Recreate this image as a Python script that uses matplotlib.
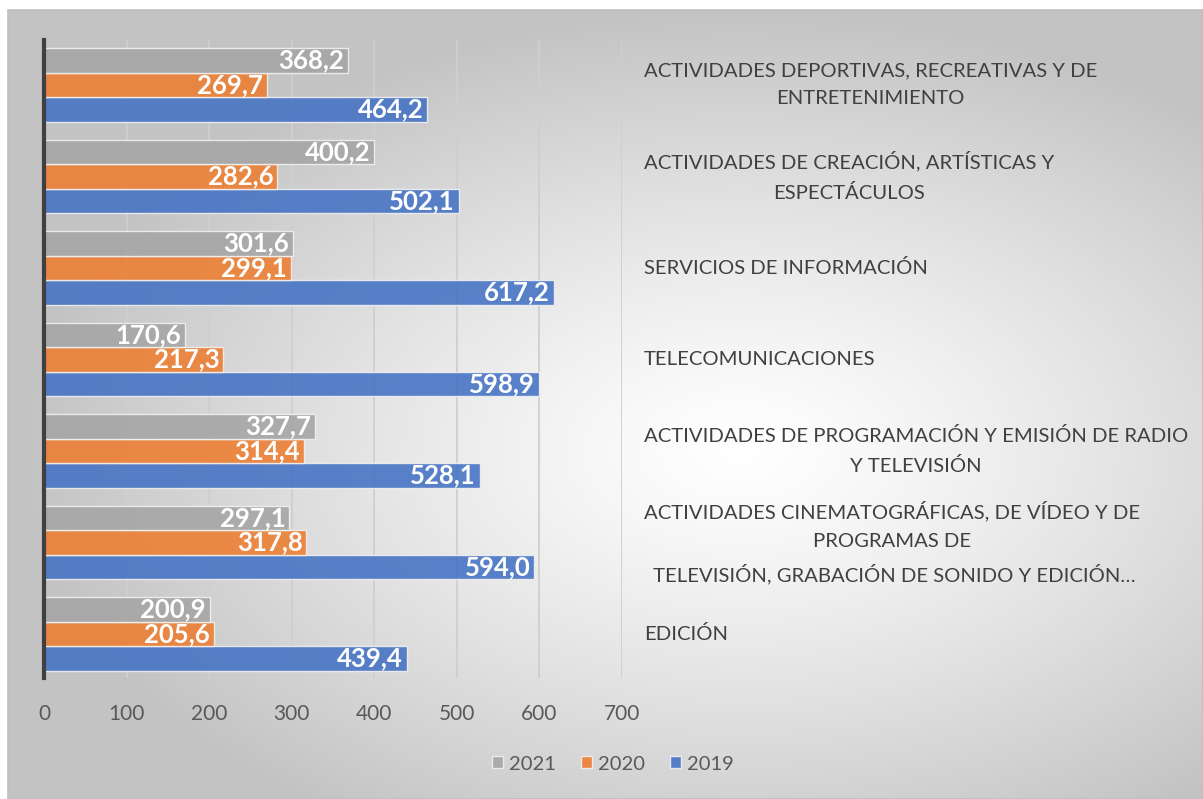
import numpy as np
import matplotlib
matplotlib.use("Agg")
import matplotlib.pyplot as plt
from matplotlib.patches import Patch, Rectangle
import matplotlib.transforms as mtransforms

# ---------------- data ----------------
categories = [
    "EDICIÓN",
    "ACTIVIDADES CINEMATOGRÁFICAS, DE VÍDEO Y DE\nPROGRAMAS DE\n TELEVISIÓN, GRABACIÓN DE SONIDO Y EDICIÓN…",
    "ACTIVIDADES DE PROGRAMACIÓN Y EMISIÓN DE RADIO\nY TELEVISIÓN",
    "TELECOMUNICACIONES",
    "SERVICIOS DE INFORMACIÓN",
    "ACTIVIDADES DE CREACIÓN, ARTÍSTICAS Y\nESPECTÁCULOS",
    "ACTIVIDADES DEPORTIVAS, RECREATIVAS Y DE\nENTRETENIMIENTO",
]
v2019 = [439.4, 594.0, 528.1, 598.9, 617.2, 502.1, 464.2]
v2020 = [205.6, 317.8, 314.4, 217.3, 299.1, 282.6, 269.7]
v2021 = [200.9, 297.1, 327.7, 170.6, 301.6, 400.2, 368.2]
series_names = ["2021", "2020", "2019"]
xticks = [0, 100, 200, 300, 400, 500, 600, 700]

colors = {"2019": "#4472C4", "2020": "#ED7D31", "2021": "#A5A5A5"}

W, H = 1203, 799
fig = plt.figure(figsize=(W / 100, H / 100), dpi=100)
fig.patch.set_facecolor("white")

FONT = "Lato"

def fx(px):
    return px / W

def fy(py):
    return 1 - py / H

# ---------------- background gradient ----------------
bx0, by0, bx1, by1 = 8, 10, 1203, 799
bg = fig.add_axes([fx(bx0), fy(by1), fx(bx1 - bx0), (by1 - by0) / H], zorder=-5)
xx, yy = np.meshgrid(np.arange(bx0, bx1), np.arange(by0, by1))
cx, cy = 740, 450
d = np.sqrt(((xx - cx) / 720) ** 2 + ((yy - cy) / 440) ** 2)
val = 255 - 60 * np.clip(d, 0, 1) ** 1.25
img = np.dstack([val, val, val]) / 255.0
bg.imshow(img, aspect="auto", extent=[0, 1, 0, 1], origin="upper")
bg.set_xlim(0, 1)
bg.set_ylim(0, 1)
bg.axis("off")
fig.patches.append(Rectangle((fx(bx0), fy(by1)), fx(bx1 - bx0), (by1 - by0) / H,
                             transform=fig.transFigure, fill=False,
                             edgecolor="#bfbfbf", linewidth=1.2, zorder=-4))

# ---------------- main axes ----------------
top_px, bot_px = 40, 678
ax = fig.add_axes([fx(44), fy(bot_px), fx(622 - 44), (bot_px - top_px) / H])
ax.patch.set_alpha(0)

y = np.arange(len(categories))
h = 0.268
data = {"2019": v2019, "2020": v2020, "2021": v2021}
offsets = {"2019": -h, "2020": 0.0, "2021": h}

for xt in xticks[1:]:
    ax.axvline(xt, color="#cfcfcf", linewidth=1.3, zorder=1)

for name in ["2019", "2020", "2021"]:
    vals = data[name]
    ax.barh(y + offsets[name], vals, height=h, color=colors[name],
            alpha=0.88, edgecolor="#f2f2f2", linewidth=1.0, zorder=2)
    for yi, v in zip(y + offsets[name], vals):
        ax.annotate(f"{v:.1f}".replace(".", ","), xy=(v, yi), xytext=(-4, 0),
                    textcoords="offset pixels", ha="right", va="center",
                    color="white", fontweight="bold", fontsize=18.5,
                    fontfamily=FONT, zorder=3)

ax.set_xlim(0, 700)
ax.set_ylim(-0.48, 6.49)
ax.set_xticks(xticks)
ax.set_xticklabels([str(t) for t in xticks], fontfamily=FONT, fontsize=15,
                   color="#595959")
ax.tick_params(axis="x", length=0, pad=19)
ax.set_yticks([])
for s in ["top", "right", "bottom"]:
    ax.spines[s].set_visible(False)
ax.spines["left"].set_color("#404040")
ax.spines["left"].set_linewidth(3)
ax.spines["left"].set_zorder(4)

# ---------------- category labels ----------------
trans = mtransforms.blended_transform_factory(fig.transFigure, ax.transData)
for yi, lab in zip(y, categories):
    ax.text(fx(644), yi, lab, transform=trans, ha="left", va="center",
            multialignment="center", fontfamily=FONT, fontsize=14.6,
            color="#404040", linespacing=1.8)

# ---------------- legend ----------------
handles = [Patch(facecolor=colors[n], alpha=0.88, edgecolor="#f2f2f2") for n in series_names]
leg = fig.legend(handles, series_names, loc="center", bbox_to_anchor=(fx(613), fy(764)),
                 ncol=3, frameon=False, prop={"family": FONT, "size": 14.5},
                 handlelength=0.55, handleheight=0.55, handletextpad=0.3,
                 columnspacing=1.25, labelcolor="#595959")

fig.savefig("out.png", dpi=100)
